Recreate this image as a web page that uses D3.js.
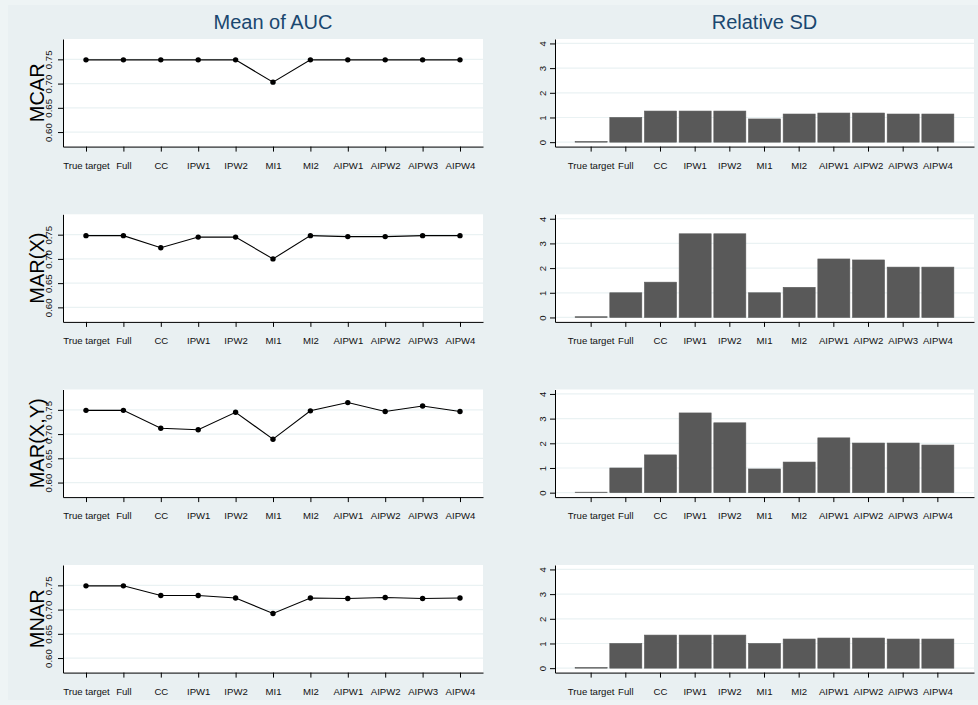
<!DOCTYPE html>
<html>
<head>
<meta charset="utf-8">
<script src="https://cdn.jsdelivr.net/npm/d3@7"></script>
<style>
  html, body { margin: 0; padding: 0; background: #eaf2f3; }
  svg { display: block; font-family: "Liberation Sans", Arial, sans-serif; }
</style>
</head>
<body>
<svg id="chart" width="978" height="705"></svg>
<script>
const categories = ["True target","Full","CC","IPW1","IPW2","MI1","MI2","AIPW1","AIPW2","AIPW3","AIPW4"];
const scenarios = ["MCAR","MAR(X)","MAR(X,Y)","MNAR"];
const columnTitles = ["Mean of AUC","Relative SD"];

const aucMCAR  = [0.749,0.749,0.749,0.749,0.749,0.703,0.749,0.749,0.749,0.749,0.749];
const aucMARX  = [0.748,0.748,0.723,0.745,0.745,0.700,0.748,0.746,0.746,0.748,0.748];
const aucMARXY = [0.749,0.749,0.712,0.709,0.745,0.6895,0.748,0.765,0.7466,0.758,0.7466];
const aucMNAR  = [0.749,0.749,0.729,0.729,0.724,0.692,0.724,0.723,0.725,0.723,0.724];

const sdMCAR  = [0.02,1.0,1.26,1.26,1.26,0.94,1.14,1.18,1.18,1.14,1.14];
const sdMARX  = [0.03,1.0,1.43,3.39,3.39,1.0,1.22,2.37,2.33,2.04,2.04];
const sdMARXY = [0.02,1.0,1.53,3.23,2.83,0.96,1.24,2.22,2.01,2.01,1.93];
const sdMNAR  = [0.02,1.0,1.34,1.34,1.34,1.0,1.18,1.22,1.22,1.18,1.18];

const aucTicks = [0.60,0.65,0.70,0.75];
const sdTicks = [0,1,2,3,4];

const aucSeries = [aucMCAR, aucMARX, aucMARXY, aucMNAR];
const sdSeries = [sdMCAR, sdMARX, sdMARXY, sdMNAR];

const svg = d3.select("#chart");
const BG = "#e9f0f2", OUTER = "#eef4f5", GRID = "#eaf2f3", TITLE = "#1a476f", BAR = "#595959";

svg.append("rect").attr("width",978).attr("height",705).attr("fill",OUTER);
svg.append("rect").attr("x",8).attr("y",5).attr("width",970).attr("height",695).attr("fill",BG);

const rowTops = [39, 214.3, 389.5, 565];
const H = 107.6;
const L = {x0: 63, x1: 483};
const R = {x0: 555, x1: 974};

// column titles
svg.append("text").attr("x",(L.x0+L.x1)/2).attr("y",29).attr("text-anchor","middle")
  .attr("font-size",20).attr("fill",TITLE).text(columnTitles[0]);
svg.append("text").attr("x",(R.x0+R.x1)/2).attr("y",29).attr("text-anchor","middle")
  .attr("font-size",20).attr("fill",TITLE).text(columnTitles[1]);

function styleYAxis(g, off){
  g.select(".domain").attr("stroke","#000").attr("stroke-width",1);
  g.selectAll(".tick line").attr("stroke","#000");
  g.selectAll(".tick text")
    .attr("transform","rotate(-90)")
    .attr("x",0).attr("y",-off).attr("dy",0)
    .attr("text-anchor","middle")
    .attr("font-size",9.6).attr("fill","#111");
}
function styleXAxis(g){
  g.select(".domain").attr("stroke","#000").attr("stroke-width",1);
  g.selectAll(".tick line").attr("stroke","#000");
  g.selectAll(".tick text").attr("y",15.5).attr("dy","0.71em")
    .attr("font-size",9.6).attr("fill","#111");
}

scenarios.forEach((sc, r) => {
  const top = rowTops[r], bot = top + H;

  // ---------- left: mean AUC ----------
  const gl = svg.append("g");
  gl.append("rect").attr("x",L.x0).attr("y",top).attr("width",L.x1-L.x0).attr("height",H).attr("fill","#fff");
  const x = d3.scalePoint().domain(categories).range([L.x0,L.x1]).padding(0.615);
  const y = d3.scaleLinear().domain([0.570,0.792]).range([bot,top]);
  gl.selectAll("line.grid").data(aucTicks).join("line")
    .attr("x1",L.x0).attr("x2",L.x1).attr("y1",d=>y(d)).attr("y2",d=>y(d))
    .attr("stroke",GRID).attr("stroke-width",1.2);
  const vals = aucSeries[r];
  gl.append("path").datum(vals)
    .attr("d", d3.line().x((d,i)=>x(categories[i])).y(d=>y(d)))
    .attr("fill","none").attr("stroke","#000").attr("stroke-width",1.1);
  gl.selectAll("circle").data(vals).join("circle")
    .attr("cx",(d,i)=>x(categories[i])).attr("cy",d=>y(d)).attr("r",2.7).attr("fill","#000");
  gl.append("g").attr("transform",`translate(${L.x0},0)`)
    .call(d3.axisLeft(y).tickValues(aucTicks).tickFormat(d3.format(".2f")).tickSize(5).tickSizeOuter(0))
    .call(g=>styleYAxis(g,11.5));
  gl.append("g").attr("transform",`translate(0,${bot})`)
    .call(d3.axisBottom(x).tickSize(5).tickSizeOuter(0))
    .call(styleXAxis);
  gl.append("text")
    .attr("transform",`translate(44,${(top+bot)/2}) rotate(-90)`)
    .attr("text-anchor","middle").attr("font-size",20).attr("fill","#000").text(sc);

  // ---------- right: relative SD ----------
  const gr = svg.append("g");
  gr.append("rect").attr("x",R.x0).attr("y",top).attr("width",R.x1-R.x0).attr("height",H).attr("fill","#fff");
  const xb = d3.scaleBand().domain(categories).range([R.x0,R.x1]).paddingInner(0.077).paddingOuter(0.581);
  const ys = d3.scaleLinear().domain([-0.18,4.18]).range([bot,top]);
  gr.selectAll("line.grid").data(sdTicks).join("line")
    .attr("x1",R.x0).attr("x2",R.x1).attr("y1",d=>ys(d)).attr("y2",d=>ys(d))
    .attr("stroke",GRID).attr("stroke-width",1.2);
  const sv = sdSeries[r];
  gr.selectAll("rect.bar").data(sv).join("rect").attr("class","bar")
    .attr("x",(d,i)=>xb(categories[i])).attr("width",xb.bandwidth())
    .attr("y",d=>ys(d)).attr("height",d=>ys(0)-ys(d))
    .attr("fill",BAR).attr("stroke",BAR).attr("stroke-width",0.6);
  gr.append("g").attr("transform",`translate(${R.x0},0)`)
    .call(d3.axisLeft(ys).tickValues(sdTicks).tickFormat(d3.format("d")).tickSize(5).tickSizeOuter(0))
    .call(g=>styleYAxis(g,9));
  gr.append("g").attr("transform",`translate(0,${bot})`)
    .call(d3.axisBottom(xb).tickSize(5).tickSizeOuter(0))
    .call(styleXAxis);
});
</script>
</body>
</html>
